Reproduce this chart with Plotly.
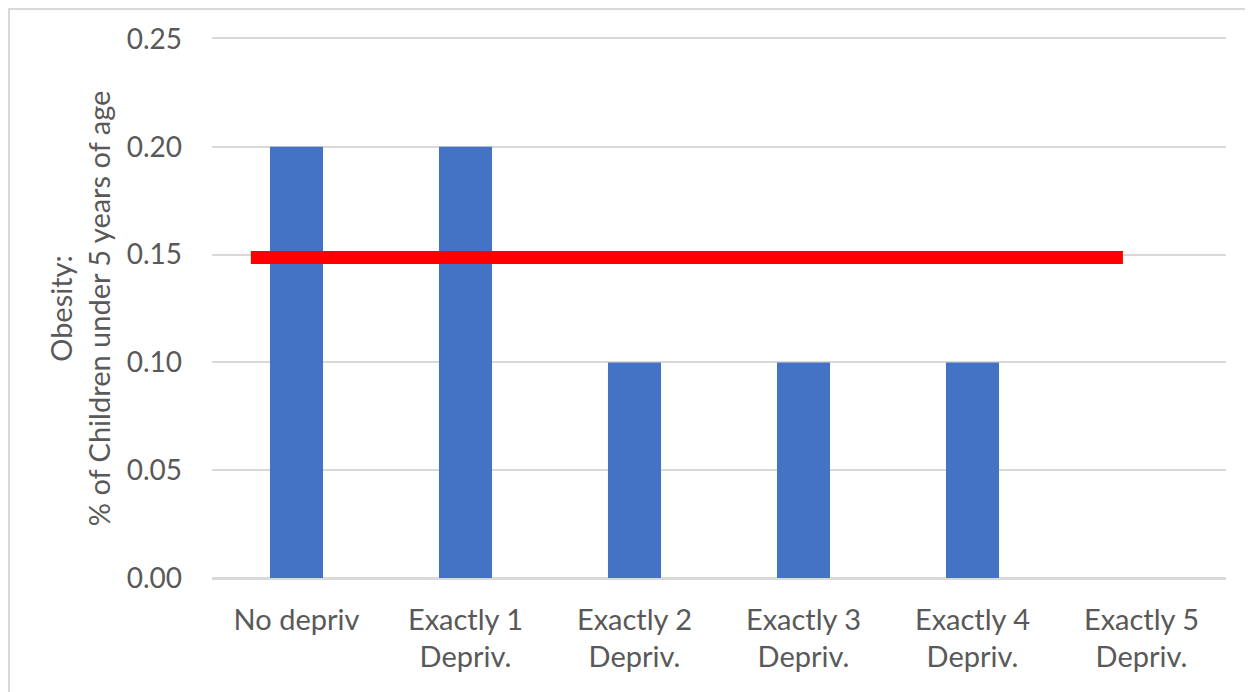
import plotly.graph_objects as go

categories = ["No depriv", "Exactly 1<br>Depriv.", "Exactly 2<br>Depriv.",
              "Exactly 3<br>Depriv.", "Exactly 4<br>Depriv.", "Exactly 5<br>Depriv."]
obesity = [0.20, 0.20, 0.10, 0.10, 0.10, 0.0]
threshold = 0.1487
threshold_start = -0.27   # category index units
threshold_end = 4.89
y_ticks = [0.0, 0.05, 0.10, 0.15, 0.20, 0.25]

W, H = 1253, 692
OFF = 8  # page body margin offset
ML, MR, MT, MB = 212 - OFF, 1253 - 1226 + OFF, 39 - OFF, 692 - 578 + OFF
font = "Lato, 'Open Sans', sans-serif"
grey = "#595959"

fig = go.Figure()
fig.add_trace(go.Bar(x=categories, y=obesity, marker_color="#4472C4",
                     marker_line_width=0, showlegend=False))

fig.add_shape(type="line", xref="x", yref="y",
              x0=threshold_start, x1=threshold_end, y0=threshold, y1=threshold,
              line=dict(color="#FF0000", width=13), layer="above")

pw, ph = W - ML - MR, H - MT - MB
fig.add_shape(type="rect", xref="paper", yref="paper",
              x0=(1 - ML) / pw, x1=1.3,
              y0=-1, y1=1 + (MT - 1) / ph,
              line=dict(color="#D9D9D9", width=2), layer="below")

fig.update_layout(
    width=W, height=H,
    margin=dict(l=ML, r=MR, t=MT, b=MB),
    paper_bgcolor="white", plot_bgcolor="white",
    bargap=0.686,
    font=dict(family=font, color=grey, size=29),
    xaxis=dict(showgrid=False, showline=True, mirror=True,
               linecolor="#D9D9D9", linewidth=1.5, ticks="",
               tickfont=dict(size=29, color=grey), ticklabelstandoff=15),
    yaxis=dict(range=[0, 0.25], tickvals=y_ticks, tickformat=".2f",
               showgrid=True, gridcolor="#D9D9D9", gridwidth=1.5,
               zeroline=True, zerolinecolor="#D9D9D9", zerolinewidth=1.5,
               showline=False, ticks="", ticklabelstandoff=29,
               tickfont=dict(size=28, color=grey),
               title=dict(text="Obesity:<br>% of Children under 5 years of age",
                          font=dict(size=29, color=grey), standoff=7)),
)

fig.write_html("out.html")
